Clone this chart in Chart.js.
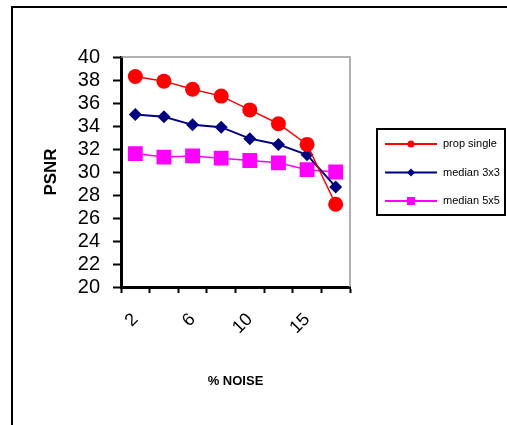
<!DOCTYPE html>
<html>
<head>
<meta charset="utf-8">
<script src="https://cdn.jsdelivr.net/npm/chart.js@4/dist/chart.umd.min.js"></script>
<style>
  html, body { margin: 0; padding: 0; background: #fff; }
  #wrap { width: 507px; height: 425px; }
</style>
</head>
<body>
<div id="wrap"><canvas id="psnrChart" width="507" height="425"></canvas></div>
<script>
// noise levels (only every other one is labelled on the axis)
const noiseLevels = ['2', '4', '6', '8', '10', '12', '15', '18'];
const propSingle = [38.3, 37.9, 37.2, 36.6, 35.4, 34.2, 32.4, 27.2];
const median3x3 = [35.0, 34.8, 34.1, 33.9, 32.9, 32.4, 31.5, 28.7];
const median5x5 = [31.6, 31.3, 31.4, 31.2, 31.0, 30.8, 30.2, 30.0];
const yTicks = [20, 40, 2]; // min, max, step

const fontFamily = '"Liberation Sans", Arial, sans-serif';

// outer frame + gray top/right edge of plot
const framePlugin = {
  id: 'frame',
  beforeDraw(chart) {
    const ctx = chart.ctx;
    ctx.save();
    ctx.strokeStyle = '#000';
    ctx.lineWidth = 2;
    ctx.strokeRect(12, 7, 520, 440);
    ctx.restore();
  },
  afterDatasetsDraw(chart) {
    const { ctx, chartArea } = chart;
    ctx.save();
    ctx.strokeStyle = '#999';
    ctx.lineWidth = 1.5;
    ctx.beginPath();
    ctx.moveTo(chartArea.left, chartArea.top);
    ctx.lineTo(chartArea.right, chartArea.top);
    ctx.lineTo(chartArea.right, chartArea.bottom);
    ctx.stroke();
    ctx.restore();
  }
};

// legend box with line + marker like the original
const legendPlugin = {
  id: 'boxLegend',
  afterDraw(chart) {
    const ctx = chart.ctx;
    const box = { x: 377, y: 129, w: 128, h: 86 };
    ctx.save();
    ctx.strokeStyle = '#000';
    ctx.lineWidth = 2;
    ctx.strokeRect(box.x, box.y, box.w, box.h);
    ctx.font = '11px ' + fontFamily;
    ctx.textBaseline = 'middle';
    chart.data.datasets.forEach((ds, i) => {
      const y = box.y + 15 + i * 28.5;
      ctx.strokeStyle = ds.borderColor;
      ctx.lineWidth = 2;
      ctx.beginPath();
      ctx.moveTo(385, y);
      ctx.lineTo(437, y);
      ctx.stroke();
      ctx.fillStyle = ds.borderColor;
      ctx.beginPath();
      if (ds.pointStyle === 'circle') {
        ctx.arc(411, y, 3.5, 0, Math.PI * 2);
      } else if (ds.pointStyle === 'rectRot') {
        ctx.moveTo(411, y - 4);
        ctx.lineTo(415, y);
        ctx.lineTo(411, y + 4);
        ctx.lineTo(407, y);
        ctx.closePath();
      } else {
        ctx.rect(407, y - 4, 8, 8);
      }
      ctx.fill();
      ctx.fillStyle = '#000';
      ctx.fillText(ds.label, 443, y);
    });
    ctx.restore();
  }
};

const ctx = document.getElementById('psnrChart').getContext('2d');
new Chart(ctx, {
  type: 'line',
  data: {
    labels: noiseLevels,
    datasets: [{
      label: 'prop single',
      data: propSingle,
      borderColor: '#ff0000',
      backgroundColor: '#ff0000',
      borderWidth: 1.5,
      pointStyle: 'circle',
      pointRadius: 7.5,
      pointBorderWidth: 0
    }, {
      label: 'median 3x3',
      data: median3x3,
      borderColor: '#000080',
      backgroundColor: '#000080',
      borderWidth: 2,
      pointStyle: 'rectRot',
      pointRadius: 6.5,
      pointBorderWidth: 0
    }, {
      label: 'median 5x5',
      data: median5x5,
      borderColor: '#ff00ff',
      backgroundColor: '#ff00ff',
      borderWidth: 1.5,
      pointStyle: 'rect',
      pointRadius: 10.5,
      pointBorderWidth: 0
    }]
  },
  options: {
    responsive: false,
    animation: false,
    layout: { padding: { left: 30, top: 57, right: 157, bottom: 28 } },
    plugins: {
      legend: { display: false },
      tooltip: { enabled: false }
    },
    scales: {
      x: {
        offset: true,
        afterFit: (scale) => { scale.height = 110; },
        grid: {
          offset: true,
          drawOnChartArea: false,
          drawTicks: true,
          tickLength: 6,
          tickWidth: 2,
          tickColor: '#000'
        },
        border: { color: '#000', width: 3 },
        ticks: {
          autoSkip: false,
          minRotation: 45,
          maxRotation: 45,
          padding: 16,
          color: '#000',
          font: { family: fontFamily, size: 18 },
          callback: (val, i) => (i % 2 === 0 ? noiseLevels[i] : '')
        },
        title: {
          display: true,
          text: '% NOISE',
          color: '#000',
          font: { family: fontFamily, size: 13, weight: 'bold' },
          padding: { top: 4, bottom: 8 }
        }
      },
      y: {
        min: yTicks[0],
        max: yTicks[1],
        afterFit: (scale) => { scale.width = 91; },
        grid: {
          drawOnChartArea: false,
          drawTicks: true,
          tickLength: 8,
          tickWidth: 2,
          tickColor: '#000'
        },
        border: { color: '#000', width: 3 },
        ticks: {
          autoSkip: false,
          stepSize: yTicks[2],
          color: '#000',
          padding: 13,
          font: { family: fontFamily, size: 20 }
        },
        title: {
          display: true,
          text: 'PSNR',
          color: '#000',
          font: { family: fontFamily, size: 17, weight: 'bold' },
          padding: { top: 11, bottom: 4 }
        }
      }
    }
  },
  plugins: [framePlugin, legendPlugin]
});
</script>
</body>
</html>
